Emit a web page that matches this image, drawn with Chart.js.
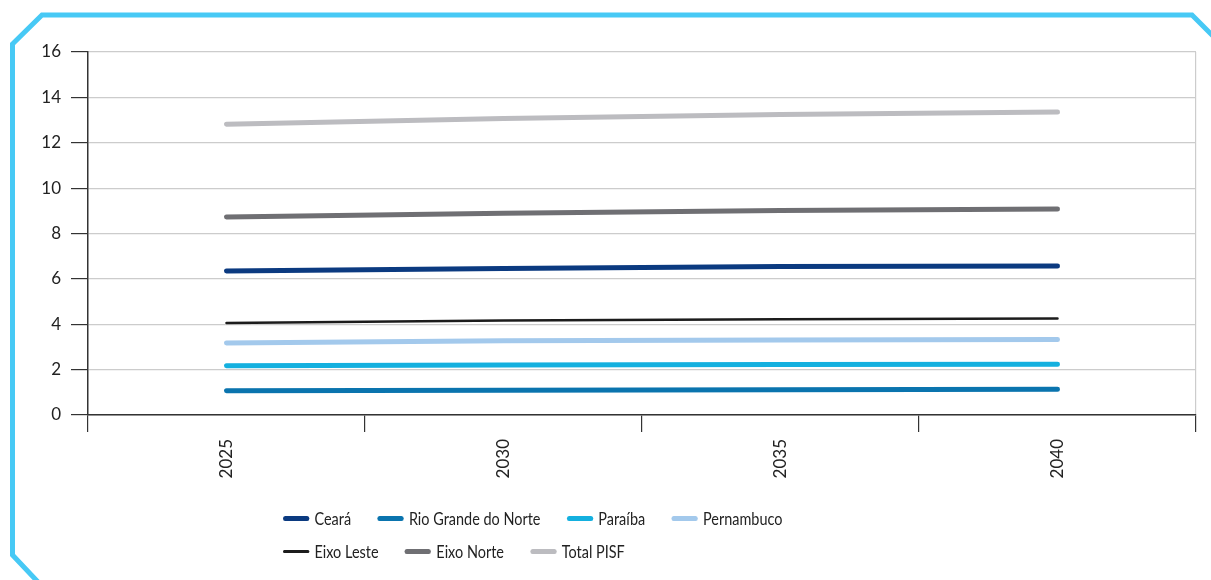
<!DOCTYPE html>
<html>
<head>
<meta charset="utf-8">
<script src="https://cdn.jsdelivr.net/npm/chart.js@4"></script>
<style>
  body { margin: 0; background: #fff; }
  #wrap { position: relative; width: 1211px; height: 580px; overflow: hidden; }
  #frame { position: absolute; left: 0; top: 0; }
  #chart { position: absolute; left: 0; top: 0; }
  /* fonte da referência é condensada: escala horizontal */
  #legend { position: absolute; left: 283px; top: 502px; font-family: Lato, sans-serif; font-size: 17px; color: #222;
            transform: scaleX(0.85); transform-origin: 0 0; }
  .row { display: flex; align-items: center; height: 33px; }
  .item { display: flex; align-items: center; margin-right: 31px; }
  .swatch { width: 31px; border-radius: 3px; margin-right: 6px; }
</style>
</head>
<body>
<div id="wrap">
  <svg id="frame" width="1211" height="580">
    <polyline points="38,582 12.5,555 12.5,44 42,15 1192,15 1213,36" fill="none" stroke="#47c9f5" stroke-width="5"/>
  </svg>
  <canvas id="chart" width="1211" height="580"></canvas>
  <div id="legend"></div>
</div>
<script>
// Dados
var anos = ['2025', '2030', '2035', '2040'];
var ceara = [6.35, 6.46, 6.54, 6.57];
var rioGrandeNorte = [1.07, 1.09, 1.11, 1.13];
var paraiba = [2.17, 2.20, 2.23, 2.24];
var pernambuco = [3.17, 3.27, 3.31, 3.33];
var eixoLeste = [4.06, 4.16, 4.22, 4.25];
var eixoNorte = [8.73, 8.89, 9.01, 9.08];
var totalPisf = [12.82, 13.07, 13.25, 13.35];

var series = [
    { label: 'Ceará', data: ceara, color: '#0b3a80', width: 5 },
    { label: 'Rio Grande do Norte', data: rioGrandeNorte, color: '#0a74ae', width: 5 },
    { label: 'Paraíba', data: paraiba, color: '#14b0df', width: 5 },
    { label: 'Pernambuco', data: pernambuco, color: '#a3c9ec', width: 5 },
    { label: 'Eixo Leste', data: eixoLeste, color: '#1c1c1c', width: 2.5 },
    { label: 'Eixo Norte', data: eixoNorte, color: '#6f6f73', width: 5 },
    { label: 'Total PISF', data: totalPisf, color: '#bcbcc0', width: 5 }
];

Chart.defaults.font.family = 'Lato, sans-serif';
Chart.defaults.font.size = 17;
Chart.defaults.color = '#222';

var ctx = document.getElementById('chart').getContext('2d');
var chart = new Chart(ctx, {
    type: 'line',
    data: {
        labels: anos,
        datasets: series.map(function(s) {
            return {
                label: s.label,
                data: s.data,
                borderColor: s.color,
                backgroundColor: s.color,
                borderWidth: s.width,
                borderCapStyle: 'round',
                pointRadius: 0,
                tension: 0
            };
        })
    },
    options: {
        responsive: false,
        animation: false,
        layout: { padding: { left: 0, right: 15, top: 52, bottom: 90 } },
        plugins: {
            legend: { display: false },
            tooltip: { enabled: false }
        },
        scales: {
            x: {
                offset: true,
                grid: {
                    offset: true,
                    drawOnChartArea: true,
                    // so a linha da direita aparece, as outras ficam invisíveis
                    color: function(c) { return c.type === 'tick' ? 'rgba(0,0,0,0)' : '#cccccc'; },
                    tickColor: '#333',
                    tickLength: 17,
                    lineWidth: 1.2
                },
                border: { color: '#333', width: 1.5 },
                ticks: { minRotation: 90, maxRotation: 90, padding: 7 },
                afterFit: function(scale) { scale.height = 75; }
            },
            y: {
                min: 0,
                max: 16,
                ticks: { stepSize: 2, padding: 10 },
                grid: { color: '#cccccc', tickColor: '#333', tickLength: 17, lineWidth: 1.2 },
                border: { color: '#333', width: 1.5 },
                afterFit: function(scale) { scale.width = 88; }
            }
        }
    }
});

// Legenda em duas linhas
var legend = document.getElementById('legend');
var rows = [series.slice(0, 4), series.slice(4)];
rows.forEach(function(r) {
    var row = document.createElement('div');
    row.className = 'row';
    r.forEach(function(s) {
        var item = document.createElement('div');
        item.className = 'item';
        var sw = document.createElement('span');
        sw.className = 'swatch';
        sw.style.height = s.width + 'px';
        sw.style.background = s.color;
        var txt = document.createElement('span');
        txt.innerText = s.label;
        item.appendChild(sw);
        item.appendChild(txt);
        row.appendChild(item);
    });
    legend.appendChild(row);
});
</script>
</body>
</html>
